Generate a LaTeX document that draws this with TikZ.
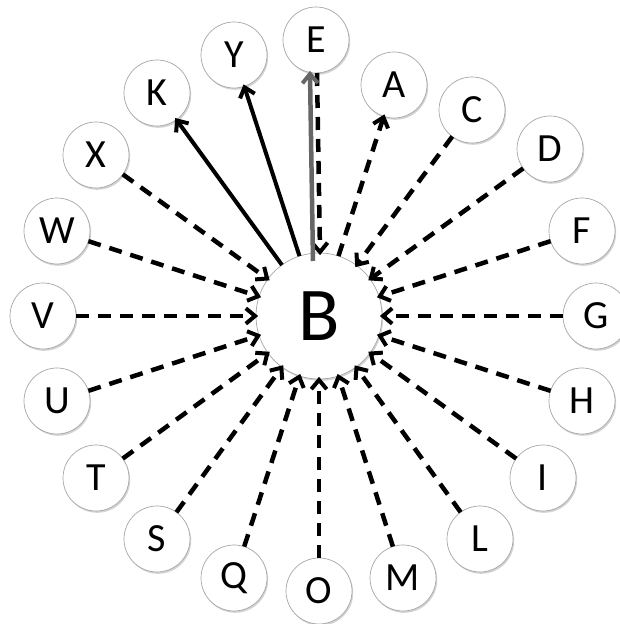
\documentclass[tikz,border=0pt]{standalone}
\usepackage{fontspec}
\setmainfont{Carlito}
\usetikzlibrary{calc,shadows}
\newcommand\mychev[3]{\draw[#1,solid,line width=4pt,line cap=butt,line join=miter] ($(#2)!12pt!40:(#3)$) -- (#2) -- ($(#2)!12pt!-40:(#3)$);}
\begin{document}
\begin{tikzpicture}[x=1pt,y=1pt,
  leaf/.style={circle,draw=gray!70,line width=0.7pt,fill=white,minimum size=66pt,inner sep=0pt,outer sep=0pt,
    font=\fontsize{40}{40}\selectfont,
    drop shadow={shadow xshift=1.2pt,shadow yshift=-1.8pt,opacity=0.35,fill=gray}},
  hub/.style={leaf,minimum size=126pt,font=\fontsize{76}{76}\selectfont},
  inarr/.style={line width=4.5pt,dash pattern=on 13pt off 9pt},
  outarr/.style={line width=4pt},
]
\useasboundingbox (0,0) rectangle (619,624);
\node[hub] (B) at (319,308) {B};
\node[leaf] (E) at (316,584) {E};
\node[leaf] (Y) at (234,569) {Y};
\node[leaf] (K) at (157,531) {K};
\node[leaf] (X) at (96,469) {X};
\node[leaf] (W) at (57,393) {W};
\node[leaf] (V) at (43,308) {V};
\node[leaf] (U) at (57,223) {U};
\node[leaf] (T) at (96,146) {T};
\node[leaf] (S) at (157,85) {S};
\node[leaf] (Q) at (234,46) {Q};
\node[leaf] (O) at (319,33) {O};
\node[leaf] (M) at (403,46) {M};
\node[leaf] (L) at (480,85) {L};
\node[leaf] (I) at (543,146) {I};
\node[leaf] (H) at (582,223) {H};
\node[leaf] (G) at (596,308) {G};
\node[leaf] (F) at (582,393) {F};
\node[leaf] (D) at (550,475) {D};
\node[leaf] (C) at (472,514) {C};
\node[leaf] (A) at (394,539) {A};
% incoming dashed arrows
\foreach \n in {X,W,V,U,T,S,Q,O,M,L,I,H,G,F,D,C}{
  \coordinate (P) at ($(B)!64pt!(\n)$);
  \draw[inarr] (\n) -- (P);
  \mychev{black}{P}{\n}
}
\coordinate (Ein) at ([xshift=1pt]E.south);
\coordinate (Bin) at ([xshift=1pt,yshift=1pt]B.north);
\draw[inarr] (Ein) -- (Bin);
\mychev{black}{Bin}{Ein}
% outgoing arrows
\coordinate (PA) at ($(A)!34pt!(B)$);
\draw[inarr] (B) -- (PA);
\mychev{black}{PA}{B}
\coordinate (PK) at ($(K)!34pt!(B)$);
\draw[outarr] (B) -- (PK);
\mychev{black}{PK}{B}
\coordinate (PY) at ($(Y)!34pt!(B)$);
\draw[outarr] (B) -- (PY);
\mychev{black}{PY}{B}
\coordinate (Eout) at ([xshift=-6pt,yshift=-1pt]E.south);
\coordinate (Bout) at ([xshift=-6pt,yshift=-8pt]B.north);
\draw[line width=4.5pt,draw=black!60] (Bout) -- (Eout);
\mychev{black!60}{Eout}{Bout}
\end{tikzpicture}
\end{document}
